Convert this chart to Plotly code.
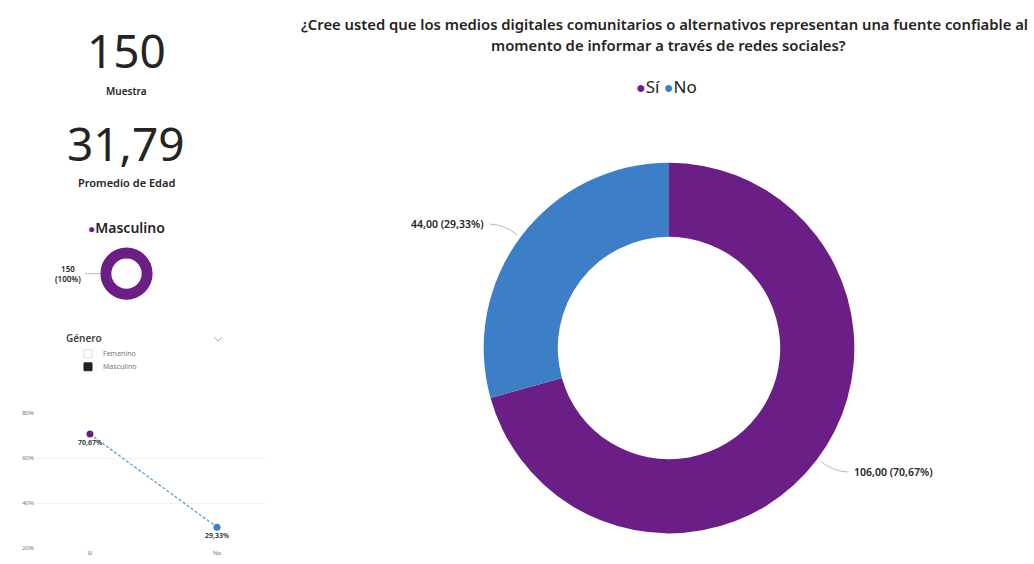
import math
import plotly.graph_objects as go

# ---------------- data ----------------
answer_labels = ["Sí", "No"]
answer_counts = [106, 44]
gender_labels = ["Masculino"]
gender_counts = [150]
sample_size = 150
mean_age = 31.79
pct_ticks = [0.2, 0.4, 0.6, 0.8]
title_lines = [
    "¿Cree usted que los medios digitales comunitarios o alternativos representan una fuente confiable al",
    "momento de informar a través de redes sociales?",
]
slicer_title = "Género"
slicer_items = ["Femenino", "Masculino"]
slicer_selected = [False, True]

# ---------------- style ----------------
W, H = 1034, 564
PURPLE = "#6B1E86"
BLUE = "#3D7FC6"
DARK = "#252423"
FONT = "Noto Sans"


def px(x):
    return x / W


def py(y):
    return 1 - y / H


def fmt(v, d=2):
    return f"{v:.{d}f}".replace(".", ",")


def text_at(x, y, text, size, color=DARK, weight=None, anchor="center"):
    f = dict(size=size, color=color, family=FONT)
    if weight:
        f["weight"] = weight
    return dict(x=px(x), y=py(y), xref="paper", yref="paper", showarrow=False,
                xanchor=anchor, yanchor="middle", text=text, font=f)


total = sum(answer_counts)
pcts = [c / total for c in answer_counts]

fig = go.Figure()

# main donut
cx, cy, R = 669, 349, 188
fig.add_trace(go.Pie(
    labels=answer_labels, values=answer_counts, hole=0.6, sort=False,
    direction="clockwise", rotation=0,
    marker=dict(colors=[PURPLE, BLUE], line=dict(width=0)),
    textinfo="none", hoverinfo="label+value+percent",
    domain=dict(x=[px(cx - R), px(cx + R)], y=[py(cy + R), py(cy - R)]),
    showlegend=False,
))

# small gender donut
scx, scy, sr = 126.5, 273.5, 26.5
gtotal = sum(gender_counts)
fig.add_trace(go.Pie(
    labels=gender_labels, values=gender_counts, hole=0.58, sort=False,
    direction="clockwise",
    marker=dict(colors=[PURPLE], line=dict(width=0)),
    textinfo="none",
    domain=dict(x=[px(scx - sr), px(scx + sr)], y=[py(scy + sr), py(scy - sr)]),
    showlegend=False,
))

# line chart
fig.add_trace(go.Scatter(
    x=list(range(len(answer_labels))), y=pcts, mode="lines+markers+text",
    line=dict(color="#5B9BD5", width=1.3, dash="3px,2px"),
    marker=dict(color=[PURPLE, BLUE], size=7),
    text=[fmt(p * 100) + "%" for p in pcts], textposition="bottom center",
    textfont=dict(family=FONT, size=7, color=DARK, weight=600),
    showlegend=False, cliponaxis=False,
))

fig.update_layout(
    width=W, height=H, margin=dict(l=0, r=0, t=0, b=0),
    paper_bgcolor="white", plot_bgcolor="white",
    font=dict(family=FONT, color=DARK),
    xaxis=dict(domain=[px(35), px(265)], range=[-0.433, 1.378],
               tickvals=list(range(len(answer_labels))), ticktext=answer_labels,
               showgrid=False, zeroline=False, showline=False,
               tickfont=dict(size=6, color="#777"), ticklen=0),
    yaxis=dict(domain=[py(552), py(415)], range=[0.2, 0.8],
               tickvals=pct_ticks, ticktext=[f"{int(t*100)}%" for t in pct_ticks],
               showgrid=True, gridcolor="#F2F2F2", gridwidth=1, zeroline=False,
               tickfont=dict(size=6, color="#777")),
)

ann = []
shapes = []

# title
ann.append(text_at(cx - 5, 20, title_lines[0], 14.8, weight=600))
ann.append(text_at(cx - 1, 42, title_lines[1], 14.8, weight=600))
# legend
leg = (f"<span style='color:{PURPLE};font-size:16px'>●</span>{answer_labels[0]} "
       f"<span style='color:{BLUE};font-size:16px'>●</span>{answer_labels[1]}")
ann.append(text_at(cx - 3, 84, leg, 17))

# donut labels with leader lines
start = 0.0
for lab, c, p in zip(answer_labels, answer_counts, pcts):
    mid = (start + p / 2) * 2 * math.pi
    start += p
    dx, dy = math.sin(mid), -math.cos(mid)
    x0, y0 = cx + (R + 2) * dx, cy + (R + 2) * dy
    x1, y1 = cx + (R + 20) * dx, cy + (R + 20) * dy
    side = 1 if dx >= 0 else -1
    x2, y2 = x1 + side * 14, y1
    shapes.append(dict(type="path", xref="paper", yref="paper",
                       path=f"M {px(x0)} {py(y0)} Q {px(x1)} {py(y1)} {px(x2)} {py(y2)}",
                       line=dict(color="#BBBBBB", width=1)))
    ann.append(text_at(x2 + side * 3, y2, f"{fmt(c)} ({fmt(p * 100)}%)", 10.5,
                       weight=600, anchor="left" if side > 0 else "right"))

# KPI cards
ann.append(text_at(126, 47, str(sample_size), 46))
ann.append(text_at(126, 88, "Muestra", 10, weight=600))
ann.append(text_at(126, 141, fmt(mean_age), 46))
ann.append(text_at(126, 181, "Promedio de Edad", 11, weight=600))

# gender donut legend + label
ann.append(text_at(127, 227, f"<span style='color:{PURPLE};font-size:12px'>●</span>{gender_labels[0]}",
                   14, weight=600))
ann.append(text_at(83, 273.5,
                   f"{gender_counts[0]}<br>({round(gender_counts[0] / gtotal * 100)}%)",
                   8, weight=600, anchor="right"))
shapes.append(dict(type="line", xref="paper", yref="paper", x0=px(85), x1=px(100),
                   y0=py(273.5), y1=py(273.5), line=dict(color="#BBBBBB", width=1)))

# slicer
ann.append(text_at(64, 339, slicer_title, 10, color="#444", weight=600, anchor="left"))
shapes.append(dict(type="path", xref="paper", yref="paper",
                   path=f"M {px(214)} {py(338)} L {px(218)} {py(342)} L {px(222)} {py(338)}",
                   line=dict(color="#AAA", width=1)))
for i, (item, sel) in enumerate(zip(slicer_items, slicer_selected)):
    yc = 355 + i * 13
    shapes.append(dict(type="rect", xref="paper", yref="paper",
                       x0=px(84), x1=px(92), y0=py(yc - 4), y1=py(yc + 4),
                       line=dict(color="#222" if sel else "#DDD", width=1),
                       fillcolor="#222" if sel else "white"))
    ann.append(text_at(101, yc, item, 7, color="#777", anchor="left"))

fig.update_layout(annotations=ann, shapes=shapes)
fig.write_html("out.html")
